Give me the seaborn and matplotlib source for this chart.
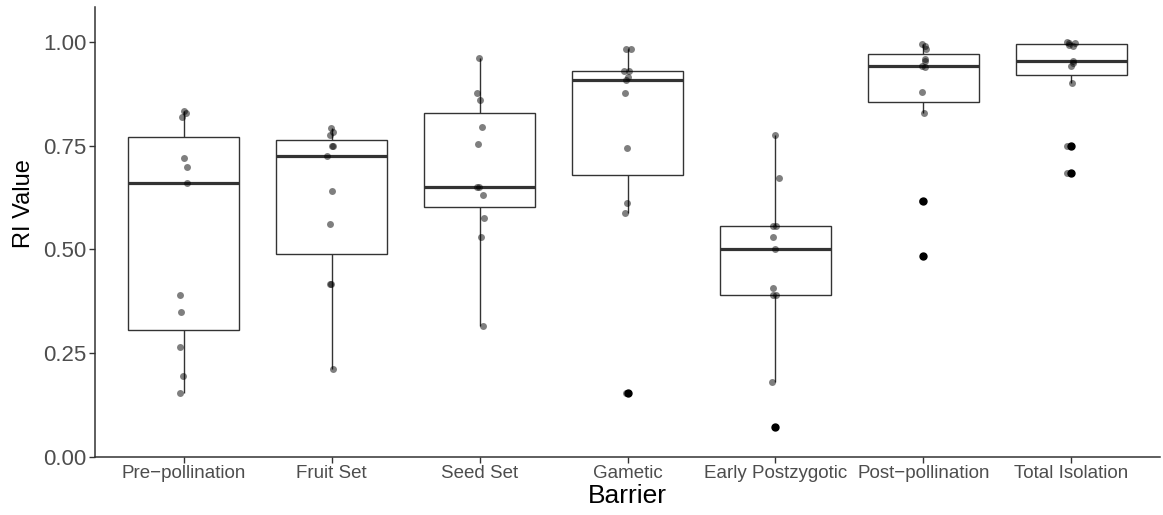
import numpy as np
import pandas as pd
import matplotlib
matplotlib.use("Agg")
import matplotlib.pyplot as plt
import seaborn as sns

barriers = ["Pre\u2212pollination", "Fruit Set", "Seed Set", "Gametic",
            "Early Postzygotic", "Post\u2212pollination", "Total Isolation"]

pre_pollination = [0.834, 0.828, 0.820, 0.720, 0.699, 0.659, 0.390, 0.350, 0.264, 0.196, 0.155]
fruit_set = [0.792, 0.784, 0.776, 0.750, 0.750, 0.726, 0.641, 0.561, 0.416, 0.416, 0.212]
seed_set = [0.960, 0.876, 0.860, 0.796, 0.755, 0.651, 0.650, 0.630, 0.576, 0.531, 0.316]
gametic = [0.983, 0.983, 0.931, 0.930, 0.915, 0.907, 0.877, 0.745, 0.612, 0.587, 0.154]
early_postzygotic = [0.776, 0.671, 0.556, 0.556, 0.531, 0.502, 0.407, 0.391, 0.391, 0.181, 0.072]
post_pollination = [0.994, 0.989, 0.983, 0.958, 0.955, 0.942, 0.940, 0.880, 0.828, 0.616, 0.483]
total_isolation = [1.000, 0.998, 0.998, 0.992, 0.990, 0.955, 0.950, 0.941, 0.900, 0.750, 0.684]

y_ticks = [0.00, 0.25, 0.50, 0.75, 1.00]
y_tick_labels = ["0.00", "0.25", "0.50", "0.75", "1.00"]

series = [pre_pollination, fruit_set, seed_set, gametic,
          early_postzygotic, post_pollination, total_isolation]
df = pd.DataFrame({
    "Barrier": np.repeat(barriers, [len(s) for s in series]),
    "RI": np.concatenate(series),
})

sns.set_theme(style="ticks")
plt.rcParams["font.family"] = ["Liberation Sans", "DejaVu Sans"]

fig = plt.figure(figsize=(11.63, 5.15), dpi=100)
ax = fig.add_axes([95/1163, 58/515, 1065/1163, 450/515])

line_col = "#333333"
sns.boxplot(data=df, x="Barrier", y="RI", order=barriers, ax=ax,
            width=0.75, color="white", linecolor=line_col, linewidth=1.0,
            whis=1.5, fliersize=5.0,
            flierprops=dict(marker="o", markerfacecolor="black",
                            markeredgecolor="black"),
            medianprops=dict(linewidth=2.3, color=line_col),
            boxprops=dict(facecolor="white", edgecolor=line_col),
            capprops=dict(linewidth=0))
np.random.seed(3)
sns.stripplot(data=df, x="Barrier", y="RI", order=barriers, ax=ax,
              jitter=0.03, color="black", alpha=0.5, size=5.0,
              linewidth=0, zorder=4)

ax.set_xlim(-0.6, 6.6)
ax.set_ylim(0, 1.084)
ax.set_yticks(y_ticks)
ax.set_yticklabels(y_tick_labels)
ax.set_xlabel("Barrier", fontsize=19, color="black", labelpad=1)
ax.set_ylabel("RI Value", fontsize=17, color="black")
ax.yaxis.set_label_coords(-0.056, 0.564)
ax.tick_params(axis="y", labelsize=16, colors="#4D4D4D", length=4,
               width=1, color=line_col, pad=2)
ax.tick_params(axis="x", labelsize=13.5, colors="#4D4D4D", length=4,
               width=1, color=line_col, pad=2)
for s in ["top", "right"]:
    ax.spines[s].set_visible(False)
for s in ["left", "bottom"]:
    ax.spines[s].set_color(line_col)
    ax.spines[s].set_linewidth(1.1)
ax.set_facecolor("white")
fig.patch.set_facecolor("white")

fig.savefig("out.png", dpi=100, facecolor="white")
